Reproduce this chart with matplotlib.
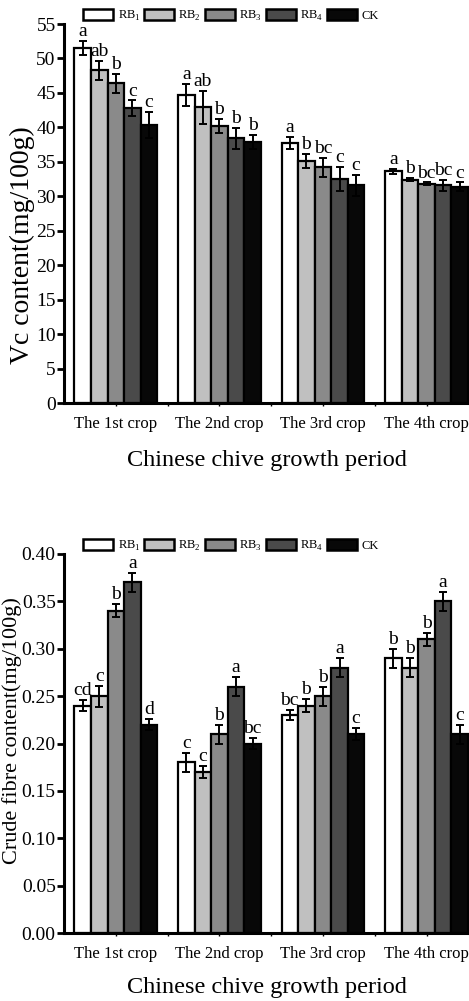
import matplotlib
matplotlib.use("Agg")
import matplotlib.pyplot as plt
import numpy as np
from matplotlib.patches import Patch

plt.rcParams['font.family'] = ['Liberation Serif', 'DejaVu Serif']
plt.rcParams['mathtext.fontset'] = 'custom'
plt.rcParams['mathtext.rm'] = 'Liberation Serif'

groups = ["The 1st crop", "The 2nd crop", "The 3rd crop", "The 4th crop"]
treatments = ["RB$_\\mathregular{1}$", "RB$_\\mathregular{2}$", "RB$_\\mathregular{3}$",
              "RB$_\\mathregular{4}$", "CK"]
colors = ["#ffffff", "#c0c0c0", "#8a8a8a", "#4a4a4a", "#080808"]

# Vc content (mg/100g): rows = treatments RB1..RB4, CK ; columns = crops
vc_vals = [[51.5, 44.7, 37.7, 33.6],
           [48.3, 42.9, 35.1, 32.4],
           [46.4, 40.2, 34.2, 31.8],
           [42.8, 38.4, 32.5, 31.6],
           [40.4, 37.9, 31.6, 31.4]]
vc_err = [[1.0, 1.6, 0.9, 0.35],
          [1.4, 2.4, 1.0, 0.25],
          [1.4, 1.0, 1.4, 0.2],
          [1.1, 1.5, 1.7, 0.8],
          [1.9, 1.0, 1.5, 0.6]]
vc_letters = [["a", "a", "a", "a"],
              ["ab", "ab", "b", "b"],
              ["b", "b", "bc", "bc"],
              ["c", "b", "c", "bc"],
              ["c", "b", "c", "c"]]

# Crude fibre content (mg/100g)
cf_vals = [[0.24, 0.18, 0.23, 0.29],
           [0.25, 0.17, 0.24, 0.28],
           [0.34, 0.21, 0.25, 0.31],
           [0.37, 0.26, 0.28, 0.35],
           [0.22, 0.20, 0.21, 0.21]]
cf_err = [[0.006, 0.010, 0.005, 0.010],
          [0.011, 0.006, 0.007, 0.010],
          [0.007, 0.010, 0.010, 0.007],
          [0.010, 0.010, 0.010, 0.010],
          [0.006, 0.006, 0.006, 0.010]]
cf_letters = [["cd", "c", "bc", "b"],
              ["c", "c", "b", "b"],
              ["b", "b", "b", "b"],
              ["a", "a", "a", "a"],
              ["d", "bc", "c", "c"]]

yticks_vc = [0, 5, 10, 15, 20, 25, 30, 35, 40, 45, 50, 55]
yticks_cf = [0.00, 0.05, 0.10, 0.15, 0.20, 0.25, 0.30, 0.35, 0.40]

W, H = 469, 1001
fig = plt.figure(figsize=(W / 100, H / 100), dpi=100)

def make_panel(rect, vals, errs, letters, yticks, ylabel, fmt, ylab_size, xlab_pad):
    ax = fig.add_axes(rect)
    x = np.arange(len(groups))
    bw = 0.16
    for j in range(len(treatments)):
        xs = x + (j - 2) * bw
        ax.bar(xs, vals[j], width=bw, color=colors[j], edgecolor='black',
               linewidth=1.6, zorder=2)
        ax.errorbar(xs, vals[j], yerr=errs[j], fmt='none', ecolor='black',
                    elinewidth=1.4, capsize=3.2, capthick=1.4, zorder=3)
        for k in range(len(groups)):
            ax.annotate(letters[j][k], (xs[k], vals[j][k] + errs[j][k]),
                        xytext=(0, 3.5), textcoords='offset points',
                        ha='center', va='baseline', fontsize=14)
    ax.set_xlim(-0.5, 3.41)
    ax.set_ylim(yticks[0], yticks[-1])
    ax.set_yticks(yticks)
    ax.set_yticklabels([fmt.format(v) for v in yticks], fontsize=14)
    ax.set_xticks(x)
    ax.set_xticks(x[:-1] + 0.5, minor=True)
    ax.set_xticklabels(groups, fontsize=12)
    ax.tick_params(axis='x', which='both', length=2, width=1, pad=7)
    ax.tick_params(axis='y', length=5, width=2, pad=1)
    for s in ['top', 'right']:
        ax.spines[s].set_visible(False)
    for s in ['left', 'bottom']:
        ax.spines[s].set_linewidth(2.2)
    ax.set_xlabel("Chinese chive growth period", fontsize=17.5, labelpad=xlab_pad)
    ax.set_ylabel(ylabel, fontsize=ylab_size, va='center')
    return ax

ax1 = make_panel([64 / W, (H - 403) / H, 1 - 64 / W, 379 / H], vc_vals, vc_err,
                 vc_letters, yticks_vc, "Vc content(mg/100g)", "{:g}", 20, 13.5)
ax1.yaxis.set_label_coords((22 - 64) / (W - 64), (H - 245 - (H - 403)) / 379)
ax2 = make_panel([64 / W, (H - 933) / H, 1 - 64 / W, 379 / H], cf_vals, cf_err,
                 cf_letters, yticks_cf, "Crude fibre content(mg/100g)", "{:.2f}", 16, 11.5)
ax2.yaxis.set_label_coords((12.3 - 64) / (W - 64), (H - 731 - (H - 933)) / 379)

handles = [Patch(facecolor=c, edgecolor='black', linewidth=1.8) for c in colors]
for ax, ytop in [(ax1, 16), (ax2, 546)]:
    fig.legend(handles, treatments, loc='center', ncol=5,
               bbox_to_anchor=(231 / W, 1 - ytop / H), frameon=False,
               fontsize=9, handlelength=2.4, handleheight=1.0,
               handletextpad=0.35, columnspacing=0.3, borderpad=0, borderaxespad=0)

fig.savefig("out.png", dpi=100)
